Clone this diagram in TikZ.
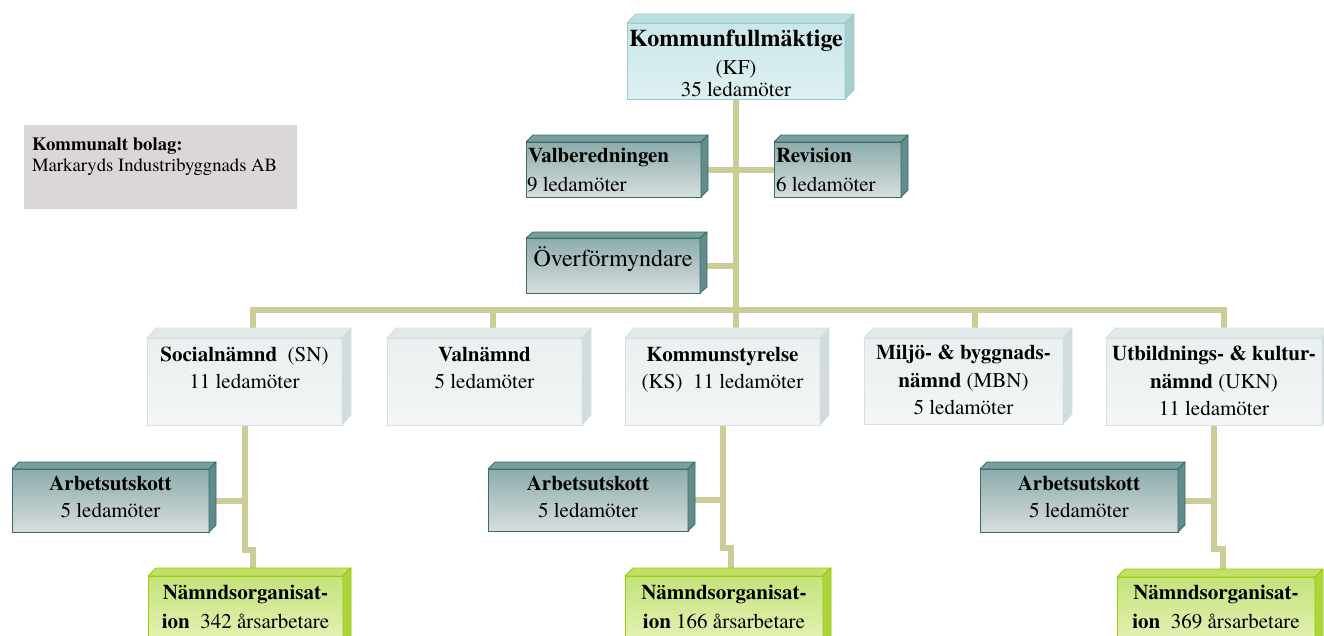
\documentclass[tikz,border=0pt]{standalone}
\usepackage{fontspec}
\setmainfont{texgyretermes}[Extension=.otf,UprightFont=*-regular,BoldFont=*-bold,ItalicFont=*-italic,BoldItalicFont=*-bolditalic]
\usetikzlibrary{backgrounds}
\definecolor{connc}{RGB}{204,204,153}
\definecolor{kfT}{RGB}{202,231,233}
\definecolor{kfM}{RGB}{222,240,241}
\definecolor{kfB}{RGB}{153,204,204}
\definecolor{kfTop}{RGB}{190,224,226}
\definecolor{kfSide}{RGB}{168,206,208}
\definecolor{teT}{RGB}{140,172,172}
\definecolor{teM}{RGB}{216,222,222}
\definecolor{teB}{RGB}{58,108,108}
\definecolor{teTop}{RGB}{120,158,158}
\definecolor{teSide}{RGB}{98,140,140}
\definecolor{liT}{RGB}{234,239,240}
\definecolor{liM}{RGB}{244,246,247}
\definecolor{liB}{RGB}{214,224,226}
\definecolor{liTop}{RGB}{226,233,235}
\definecolor{liSide}{RGB}{210,219,221}
\definecolor{grT}{RGB}{196,226,122}
\definecolor{grM}{RGB}{230,243,184}
\definecolor{grB}{RGB}{153,204,0}
\definecolor{grTop}{RGB}{192,224,104}
\definecolor{grSide}{RGB}{174,212,62}
\definecolor{bolagc}{RGB}{220,215,215}
\tikzset{
  connl/.style={draw=connc,line width=6pt},
  basebox/.style={rectangle,inner sep=0pt,outer sep=0pt,line width=1pt},
  kfbox/.style={basebox,draw=kfB,top color=kfT,bottom color=kfM},
  tealbox/.style={basebox,draw=teB,top color=teT,bottom color=teM},
  lightbox/.style={basebox,draw=liB,top color=liT,bottom color=liM},
  greenbox/.style={basebox,draw=grB,top color=grT,bottom color=grM},
  bolagbox/.style={basebox,fill=bolagc},
  txt/.style={inner sep=0pt,outer sep=0pt,anchor=base,font=\fontsize{21}{25}\selectfont},
  btxt/.style={txt,font=\fontsize{21}{25}\selectfont\bfseries},
}
\newcommand\cbox[6]{\node[#1,minimum width={(#5)-(#3)},minimum height={(#6)-(#4)}] (#2) at ({((#3)+(#5))/2},{((#4)+(#6))/2}) {};}
\newcommand\xtr[6]{%
  \filldraw[fill=#4,draw=#6,line width=0.8pt,line join=round] (#1.north west) -- ++(#2,-#3) -- ([shift={(#2,-#3)}]#1.north east) -- (#1.north east) -- cycle;
  \filldraw[fill=#5,draw=#6,line width=0.8pt,line join=round] (#1.north east) -- ++(#2,-#3) -- ([shift={(#2,-#3)}]#1.south east) -- (#1.south east) -- cycle;}
\begin{document}
\begin{tikzpicture}[x=1pt,y=-1pt]
\useasboundingbox (0,0) rectangle (1324,635);
\clip (0,0) rectangle (1324,635);
% company box
\cbox{bolagbox}{kb}{24}{125}{297}{209}
% boxes
\cbox{kfbox}{kf}{627}{23}{845}{99}
\cbox{tealbox}{val}{526}{142}{701}{197}
\cbox{tealbox}{rev}{774}{142}{901}{197}
\cbox{tealbox}{over}{526}{238}{700}{293}
\cbox{lightbox}{sn}{147}{338}{342}{425}
\cbox{lightbox}{valn}{387}{338}{582}{425}
\cbox{lightbox}{ks}{625}{338}{820}{425}
\cbox{lightbox}{mbn}{864}{338}{1063}{424}
\cbox{lightbox}{ukn}{1106}{338}{1322}{425}
\cbox{tealbox}{a1}{12}{469}{209}{532}
\cbox{tealbox}{a2}{488}{469}{688}{531}
\cbox{tealbox}{a3}{980}{469}{1178}{532}
\cbox{greenbox}{no1}{148}{576}{343}{645}
\cbox{greenbox}{no2}{625}{576}{823}{645}
\cbox{greenbox}{no3}{1117}{577}{1315}{645}
% extrusions
\xtr{kf}{9}{9}{kfTop}{kfSide}{kfB}
\xtr{val}{7}{7}{teTop}{teSide}{teB}
\xtr{rev}{7}{7}{teTop}{teSide}{teB}
\xtr{over}{7}{6}{teTop}{teSide}{teB}
\xtr{sn}{9}{10}{liTop}{liSide}{liB}
\xtr{valn}{9}{10}{liTop}{liSide}{liB}
\xtr{ks}{9}{10}{liTop}{liSide}{liB}
\xtr{mbn}{9}{10}{liTop}{liSide}{liB}
\xtr{ukn}{9}{10}{liTop}{liSide}{liB}
\xtr{a1}{7}{7}{teTop}{teSide}{teB}
\xtr{a2}{7}{7}{teTop}{teSide}{teB}
\xtr{a3}{7}{7}{teTop}{teSide}{teB}
\xtr{no1}{8}{8}{grTop}{grSide}{grB}
\xtr{no2}{8}{8}{grTop}{grSide}{grB}
\xtr{no3}{8}{8}{grTop}{grSide}{grB}
% connectors
\coordinate (b1) at (253,310);
\coordinate (b2) at (493,310);
\coordinate (b4) at (975,310);
\coordinate (b5) at (1224,310);
\coordinate (j1) at (253,550);
\coordinate (j2) at (731,548);
\coordinate (j3) at (1223,549);
\begin{pgfonlayer}{background}
\draw[connl] (kf.south) -- (kf.south |- ks.north);
\draw[connl] (val.east) -- (val.east -| kf.south);
\draw[connl] (rev.west) -- (rev.west -| kf.south);
\draw[connl] (over.east) -- (over.east -| kf.south);
\draw[connl] (b1 |- sn.north) -- (b1) -- (b5) -- (b5 |- ukn.north);
\draw[connl] (b2) -- (b2 |- valn.north);
\draw[connl] (b4) -- (b4 |- mbn.north);
\draw[connl] (sn.south) |- (j1) -- (j1 |- no1.north);
\draw[connl] (ks.south) |- (j2) -- (j2 |- no2.north);
\draw[connl] (ukn.south) |- (j3) -- (j3 |- no3.north);
\draw[connl] (a1.east) -- (a1.east -| sn.south);
\draw[connl] (a2.east) -- (a2.east -| ks.south);
\draw[connl] (a3.east) -- (a3.east -| ukn.south);
\end{pgfonlayer}
% texts
\node[txt,anchor=base west,font=\fontsize{18.7}{22}\selectfont\bfseries] (kbt1) at (32,150) {Kommunalt bolag:};
\node[txt,anchor=base west,font=\fontsize{18.7}{22}\selectfont] (kbt2) at (32,171.7) {Markaryds Industribyggnads AB};
\node[txt,font=\fontsize{24}{28}\selectfont\bfseries] (kft1) at (736,46.7) {Kommunfullmäktige};
\node[txt] (kft2) at (736,74) {(KF)};
\node[txt] (kft3) at (736,96) {35 ledamöter};
\node[btxt,anchor=base west] (valt1) at (528,162.7) {Valberedningen};
\node[txt,anchor=base west] (valt2) at (527,191) {9 ledamöter};
\node[btxt,anchor=base west] (revt1) at (776,162.7) {Revision};
\node[txt,anchor=base west] (revt2) at (776,191) {6 ledamöter};
\node[txt,font=\fontsize{24}{28}\selectfont] (overt) at (613,266) {Överförmyndare};
\node[txt] (snt1) at (244.5,361) {\textbf{Socialnämnd}\ \ (SN)};
\node[txt] (snt2) at (244.5,388) {11 ledamöter};
\node[btxt] (valnt1) at (484.5,361) {Valnämnd};
\node[txt] (valnt2) at (484.5,388) {5 ledamöter};
\node[btxt] (kst1) at (722.5,361) {Kommunstyrelse};
\node[txt] (kst2) at (722.5,388) {(KS)\ \ 11 ledamöter};
\node[btxt] (mbnt1) at (963.5,359) {Miljö- \& byggnads-};
\node[txt] (mbnt2) at (963.5,387) {\textbf{nämnd} (MBN)};
\node[txt] (mbnt3) at (963.5,414) {5 ledamöter};
\node[btxt] (uknt1) at (1214,360) {Utbildnings- \& kultur-};
\node[txt] (uknt2) at (1214,388) {\textbf{nämnd} (UKN)};
\node[txt] (uknt3) at (1214,415) {11 ledamöter};
\node[btxt] (a1t1) at (110.5,490.5) {Arbetsutskott};
\node[txt] (a1t2) at (110.5,517) {5 ledamöter};
\node[btxt] (a2t1) at (588,490.5) {Arbetsutskott};
\node[txt] (a2t2) at (588,517) {5 ledamöter};
\node[btxt] (a3t1) at (1079,490.5) {Arbetsutskott};
\node[txt] (a3t2) at (1079,517) {5 ledamöter};
\node[btxt] (no1t1) at (245.5,599) {Nämndsorganisat-};
\node[txt] (no1t2) at (245.5,628) {\textbf{ion}\ \ 342 årsarbetare};
\node[btxt] (no2t1) at (724,599) {Nämndsorganisat-};
\node[txt] (no2t2) at (724,628) {\textbf{ion} 166 årsarbetare};
\node[btxt] (no3t1) at (1216,599) {Nämndsorganisat-};
\node[txt] (no3t2) at (1216,628) {\textbf{ion}\ \ 369 årsarbetare};
\end{tikzpicture}
\end{document}
